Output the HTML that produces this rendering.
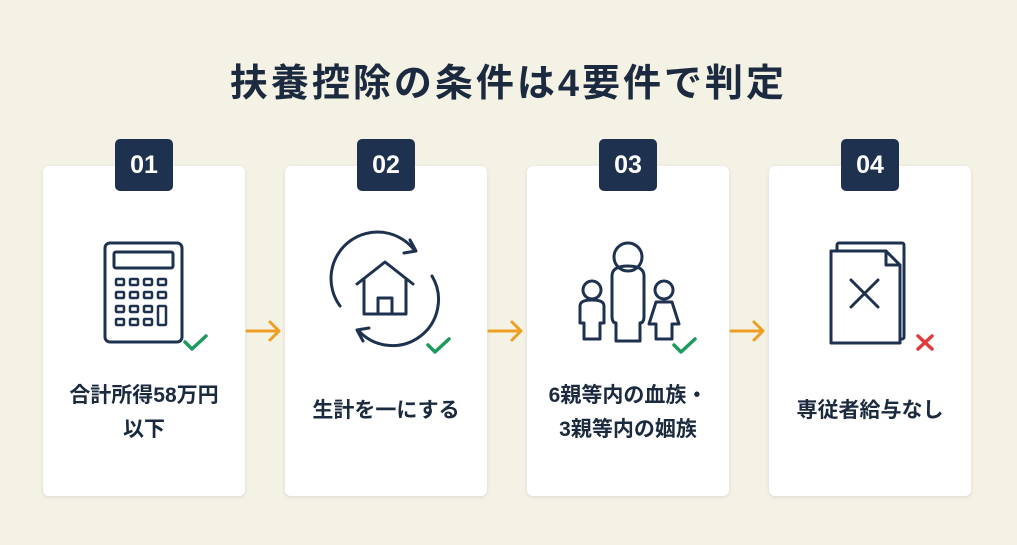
<!DOCTYPE html>
<html><head><meta charset="utf-8"><style>
body{margin:0;width:1017px;height:545px;background:#f4f1e5;font-family:"Liberation Sans","Noto Sans CJK JP",sans-serif;position:relative;overflow:hidden;color:#1b2a3e}
.t{position:absolute;left:0;width:1017px;top:52px;text-align:center;font-size:38px;font-weight:bold;letter-spacing:3px}
.c{position:absolute;top:166px;width:202px;height:330px;background:#fff;border-radius:6px;box-shadow:0 1px 4px rgba(0,0,0,.1)}
.b{position:absolute;top:139px;width:58px;height:52px;background:#1e3250;color:#fff;border-radius:5px;font-size:25px;font-weight:bold;text-align:center;line-height:52px}
.l{position:absolute;top:379px;width:202px;text-align:center;font-size:21px;font-weight:bold;line-height:34px}
svg{position:absolute;left:0;top:0}
</style></head><body>
<div class="t">扶養控除の条件は4要件で判定</div>
<div class="c" style="left:43px"></div><div class="c" style="left:285px"></div><div class="c" style="left:527px"></div><div class="c" style="left:769px"></div>
<div class="b" style="left:115px">01</div><div class="b" style="left:357px">02</div><div class="b" style="left:599px">03</div><div class="b" style="left:841px">04</div>
<div class="l" style="left:43px">合計所得58万円<br>以下</div>
<div class="l" style="left:285px;top:394px">生計を一にする</div>
<div class="l" style="left:527px">6親等内の血族・<br>3親等内の姻族</div>
<div class="l" style="left:769px;top:394px">専従者給与なし</div>
<svg width="1017" height="545" fill="none" stroke="#1e3250" stroke-width="3" stroke-linecap="round" stroke-linejoin="round">
<g stroke="#ee9e22"><path d="M247 331h32M270 322l9 9-9 9"/><path d="M489 331h32M512 322l9 9-9 9"/><path d="M731 331h32M754 322l9 9-9 9"/></g>
<rect x="105" y="243" width="77" height="99" rx="5"/><rect x="114" y="252" width="59" height="16" rx="2"/>
<g stroke-width="2.5"><rect x="116" y="279" width="8" height="6" rx="1"/><rect x="130" y="279" width="8" height="6" rx="1"/><rect x="144" y="279" width="8" height="6" rx="1"/><rect x="158" y="279" width="8" height="6" rx="1"/>
<rect x="116" y="292" width="8" height="6" rx="1"/><rect x="130" y="292" width="8" height="6" rx="1"/><rect x="144" y="292" width="8" height="6" rx="1"/><rect x="158" y="292" width="8" height="6" rx="1"/>
<rect x="116" y="306" width="8" height="6" rx="1"/><rect x="130" y="306" width="8" height="6" rx="1"/><rect x="144" y="306" width="8" height="6" rx="1"/><rect x="158" y="306" width="8" height="19" rx="1"/>
<rect x="116" y="319" width="8" height="6" rx="1"/><rect x="130" y="319" width="8" height="6" rx="1"/><rect x="144" y="319" width="8" height="6" rx="1"/></g>
<path d="M340 306A46 46 0 0 1 415 251"/><path d="M410 240l6 11-12 2"/>
<path d="M432 276A46 46 0 0 1 358 330"/><path d="M363 341l-6-11 12-2"/>
<path d="M357 284l28-22 28 22M364 279v35h42v-35M378 314v-16h14v16"/>
<circle cx="628" cy="257" r="14"/><path d="M612 316v-40q0-10 16-10t16 10v40q0 7-4 7v18h-24v-18q-4 0-4-7z"/>
<circle cx="592" cy="290" r="9"/><path d="M580 323v-17q0-6 12-6t12 6v17h-4v16h-16v-16z"/>
<circle cx="664" cy="290" r="9"/><path d="M656 302h16l7 22h-7v15h-16v-15h-7z"/>
<rect x="837" y="243" width="67" height="96" rx="2" fill="#fff"/>
<path d="M831 251h55l14 14v78h-69z" fill="#fff"/><path d="M886 251v14h14"/>
<path d="M851 280l27 27M878 280l-27 27"/>
<g stroke="#1f9a5f" stroke-width="3.5"><path d="M185 342l7 7 14-13"/><path d="M428 345l7 7 14-13"/><path d="M674 345l7 7 14-13"/></g>
<g stroke="#e03b3b" stroke-width="3.5"><path d="M918 336l14 13M932 336l-14 13"/></g>
</svg>
</body></html>
